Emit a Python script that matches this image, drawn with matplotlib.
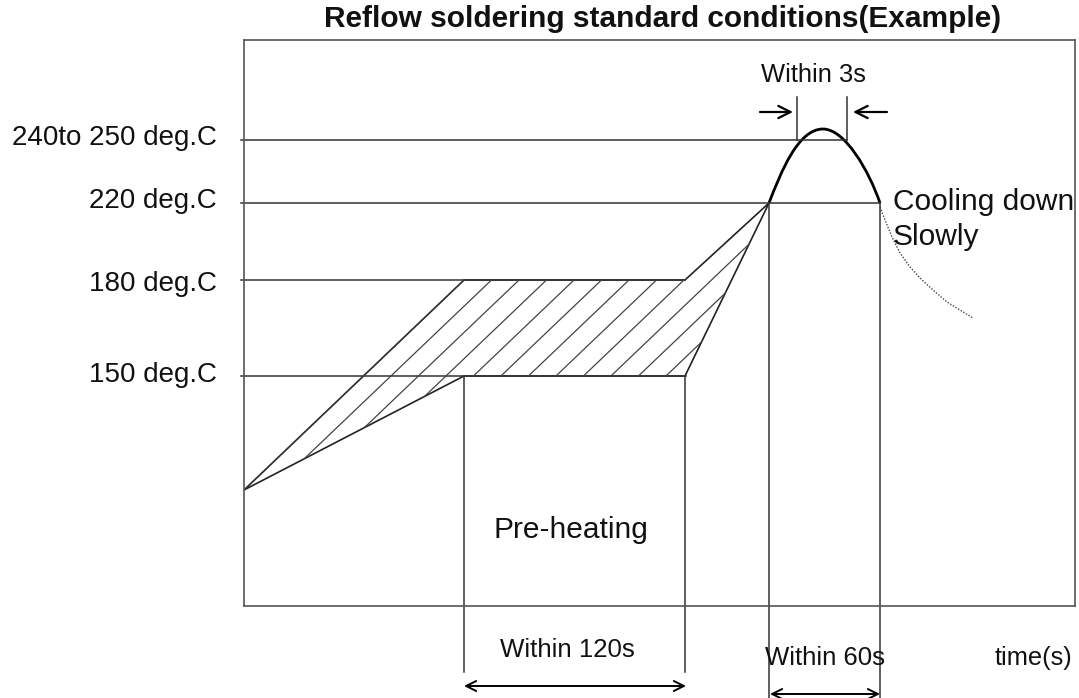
import numpy as np
import matplotlib
matplotlib.use("Agg")
import matplotlib.pyplot as plt
from matplotlib.path import Path
from matplotlib.patches import PathPatch, Polygon

plt.rcParams['font.family'] = ['Liberation Sans', 'DejaVu Sans']

# ---- schematic data (diagram units) ----
title = "Reflow soldering standard conditions(Example)"
level_labels = ["240to 250 deg.C", "220 deg.C", "180 deg.C", "150 deg.C"]
level_heights = [466, 403, 326, 230]          # schematic heights of 240-250, 220, 180, 150
level_ends = [603, 636, 441, 442]             # where each level line stops

t_start, y_start = 0, 116
t_soak_start, t_soak_end = 220, 441
t_reflow_start, t_reflow_end = 525, 636
t_peak, y_peak = 579, 477
t_win3_left, t_win3_right = 553, 603

cool_t = [636, 641, 648, 656, 666, 676, 689, 703, 716, 729]
cool_y = [399, 386, 369, 353, 339, 328, 316, 304, 296, 288]

y240, y220, y180, y150 = level_heights

fig = plt.figure(figsize=(10.79, 6.98), dpi=100)
ax = fig.add_axes([244/1079, (698-606)/698, (1075-244)/1079, (606-40)/698])
ax.set_xlim(0, 831)
ax.set_ylim(0, 566)
ax.set_xticks([])
ax.set_yticks([])
for s in ax.spines.values():
    s.set_color('#555555')
    s.set_linewidth(1.2)

lc = '#333333'
# level lines
for h, e in zip(level_heights, level_ends):
    ax.plot([-3, e], [h, h], color=lc, lw=1.1, clip_on=False)

# preheat region outline
poly_t = [t_start, t_soak_start, t_soak_end, t_reflow_start, t_soak_end, t_soak_start]
poly_y = [y_start, y180, y180, y220, y150, y150]
region = Polygon(np.column_stack([poly_t, poly_y]), closed=True, fill=False,
                 edgecolor='#222222', lw=1.2)
ax.add_patch(region)

# hatch lines parallel to the upper-left edge, clipped to the region
slope = (y180 - y_start) / (t_soak_start - t_start)
spacing = 27.5
for k in range(-20, 20):
    x0 = t_soak_start + k * spacing
    xs = np.array([x0 - 400, x0 + 400])
    ys = y180 + slope * (xs - x0)
    ln, = ax.plot(xs, ys, color='#444444', lw=0.9)
    ln.set_clip_path(region)

# peak curve (two cubic Bezier halves)
verts = [(t_reflow_start, y220), (t_reflow_start + 12, y220 + 31), (t_peak - 25, y_peak),
         (t_peak, y_peak), (t_peak + 22, y_peak), (t_reflow_end - 11, y220 + 32),
         (t_reflow_end, y220)]
codes = [Path.MOVETO, Path.CURVE4, Path.CURVE4, Path.CURVE4, Path.CURVE4, Path.CURVE4, Path.CURVE4]
ax.add_patch(PathPatch(Path(verts, codes), fill=False, edgecolor='black', lw=2.0))

# cooling dotted curve
ax.plot(cool_t, cool_y, color='#444444', lw=1.0, linestyle=(0, (1, 1.2)))

# vertical guide lines
ax.plot([t_win3_left, t_win3_left], [y240, 509], color=lc, lw=1.1)
ax.plot([t_win3_right, t_win3_right], [y240, 509], color=lc, lw=1.1)
for t in (t_soak_start, t_soak_end):
    ax.plot([t, t], [y150, -66], color=lc, lw=1.1, clip_on=False)
for t in (t_reflow_start, t_reflow_end):
    ax.plot([t, t], [y220, -92], color=lc, lw=1.1, clip_on=False)

# arrows
aprops = dict(arrowstyle='->', color='black', lw=1.6, mutation_scale=22,
              shrinkA=0, shrinkB=0)
ax.annotate('', xy=(549, 494), xytext=(516, 494), arrowprops=aprops, annotation_clip=False)
ax.annotate('', xy=(609, 494), xytext=(643, 494), arrowprops=aprops, annotation_clip=False)
dprops = dict(arrowstyle='<->', color='black', lw=1.4, mutation_scale=18,
              shrinkA=0, shrinkB=0)
ax.annotate('', xy=(t_soak_end + 1, -80), xytext=(t_soak_start, -80), arrowprops=dprops,
            annotation_clip=False)
ax.annotate('', xy=(t_reflow_end, -88), xytext=(t_reflow_start + 1, -88), arrowprops=dprops,
            annotation_clip=False)

# texts
tc = '#111111'
ax.text(419, 579, title, ha='center', va='baseline', fontsize=21.5, fontweight='bold',
        color=tc, clip_on=False)
label_base = [461, 398, 315, 224]
for lab, b in zip(level_labels, label_base):
    ax.text(-27, b, lab, ha='right', va='baseline', fontsize=20, color=tc, clip_on=False)
ax.text(569, 524, "Within 3s", ha='center', va='baseline', fontsize=18.4, color=tc)
ax.text(649, 396, "Cooling down", ha='left', va='baseline', fontsize=21.5, color=tc, clip_on=False)
ax.text(649, 361, "Slowly", ha='left', va='baseline', fontsize=21.5, color=tc)
ax.text(249, 68, "Pre-heating", ha='left', va='baseline', fontsize=21.5, color=tc)
ax.text(256, -51, "Within 120s", ha='left', va='baseline', fontsize=18.6, color=tc, clip_on=False)
ax.text(521, -59, "Within 60s", ha='left', va='baseline', fontsize=18.5, color=tc, clip_on=False)
ax.text(751, -59, "time(s)", ha='left', va='baseline', fontsize=18.4, color=tc, clip_on=False)

fig.savefig("out.png", dpi=100)
